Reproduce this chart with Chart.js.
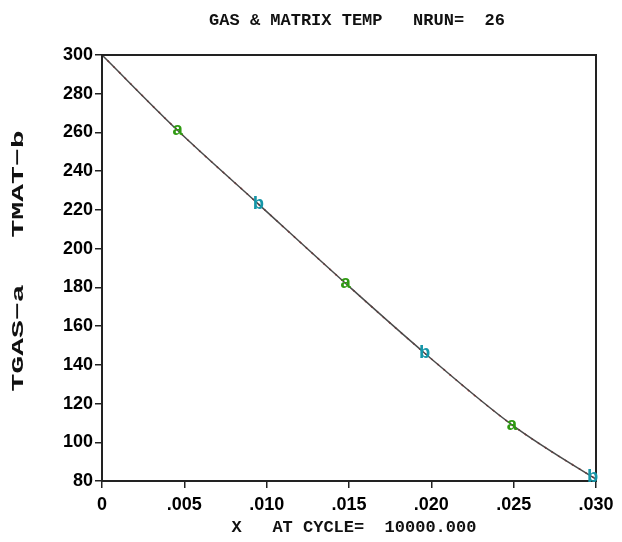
<!DOCTYPE html>
<html>
<head>
<meta charset="utf-8">
<script src="https://cdn.jsdelivr.net/npm/chart.js@4.4.1/dist/chart.umd.min.js"></script>
<style>
  html, body { margin: 0; padding: 0; background: #fff; }
  #wrap { width: 622px; height: 542px; }
</style>
</head>
<body>
<div id="wrap"><canvas id="tempChart" width="622" height="542"></canvas></div>
<script>
// x positions (metres) of the sampled curve
const curveX = [0, 0.0046, 0.0095, 0.0148, 0.0196, 0.0249, 0.0298, 0.0300];
const gasCurve = [300, 261, 223, 182, 146, 109, 82, 81];
const matCurve = [300, 261, 223, 182, 146, 109, 82, 81];

// symbol positions for each curve
const gasMarkX = [0.0046, 0.0148, 0.0249];
const gasMarkY = [261, 182, 109];
const matMarkX = [0.0095, 0.0196, 0.0298];
const matMarkY = [223, 146, 82];

const xTickLabels = ['0', '.005', '.010', '.015', '.020', '.025', '.030'];

const chartTitle = 'GAS & MATRIX TEMP   NRUN=  26';
const xTitle = 'X   AT CYCLE=  10000.000';
const yLabelMat = 'TMAT\u2212b';
const yLabelGas = 'TGAS\u2212a';

function toPoints(xs, ys) {
  return xs.map((x, i) => ({ x: x, y: ys[i] }));
}

const monoFont = 'bold 17px "Liberation Mono", "DejaVu Sans Mono", monospace';

// frame, letter markers and free text
const plotDecor = {
  id: 'plotDecor',
  afterDatasetsDraw(chart) {
    const ctx = chart.ctx;
    const area = chart.chartArea;

    ctx.save();
    ctx.strokeStyle = '#222';
    ctx.lineWidth = 2;
    ctx.strokeRect(area.left, area.top, area.right - area.left, area.bottom - area.top);
    ctx.restore();

    chart.data.datasets.forEach((ds, i) => {
      if (!ds.letter) return;
      const meta = chart.getDatasetMeta(i);
      ctx.save();
      ctx.font = 'bold 19px "Liberation Mono", "DejaVu Sans Mono", monospace';
      ctx.fillStyle = ds.letterColor;
      ctx.textAlign = 'center';
      ctx.textBaseline = 'middle';
      meta.data.forEach(pt => {
        ctx.fillText(ds.letter, pt.x, pt.y);
      });
      ctx.restore();
    });
  },
  afterDraw(chart) {
    const ctx = chart.ctx;
    ctx.save();
    ctx.fillStyle = '#111';
    ctx.font = monoFont;
    ctx.textAlign = 'center';
    ctx.textBaseline = 'middle';
    ctx.fillText(chartTitle, 357, 21);
    ctx.fillText(xTitle, 354, 528);

    [[yLabelMat, 184], [yLabelGas, 338]].forEach(([txt, cy]) => {
      ctx.save();
      ctx.translate(19, cy);
      ctx.rotate(-Math.PI / 2);
      ctx.scale(1.75, 1);
      ctx.fillText(txt, 0, 0);
      ctx.restore();
    });
    ctx.restore();
  }
};

const tickFont = { family: '"Liberation Sans", Arial, sans-serif', size: 18, weight: 'bold' };

const ctx = document.getElementById('tempChart').getContext('2d');
const tempChart = new Chart(ctx, {
  type: 'scatter',
  data: {
    datasets: [
      {
        label: 'TMAT',
        data: toPoints(curveX, matCurve),
        showLine: true,
        borderColor: '#4a4a4a',
        borderWidth: 1.5,
        pointRadius: 0,
        cubicInterpolationMode: 'monotone'
      },
      {
        label: 'TGAS',
        data: toPoints(curveX, gasCurve),
        showLine: true,
        borderColor: '#d01010',
        borderWidth: 1.5,
        borderDash: [2, 6],
        pointRadius: 0,
        cubicInterpolationMode: 'monotone'
      },
      {
        label: 'TGAS marks',
        data: toPoints(gasMarkX, gasMarkY),
        showLine: false,
        pointRadius: 0,
        letter: 'a',
        letterColor: '#2f9a12'
      },
      {
        label: 'TMAT marks',
        data: toPoints(matMarkX, matMarkY),
        showLine: false,
        pointRadius: 0,
        letter: 'b',
        letterColor: '#1596a8'
      }
    ]
  },
  options: {
    responsive: false,
    animation: false,
    layout: { padding: { top: 55, right: 26, bottom: 0, left: 0 } },
    plugins: {
      legend: { display: false },
      tooltip: { enabled: false }
    },
    scales: {
      x: {
        type: 'linear',
        min: 0,
        max: 0.03,
        afterFit(scale) { scale.height = 61; },
        afterBuildTicks(scale) {
          scale.ticks = xTickLabels.map((t, i) => ({ value: i * 0.005 }));
        },
        ticks: {
          color: '#000',
          font: tickFont,
          padding: 6,
          maxRotation: 0,
          autoSkip: false,
          callback: (v, i) => xTickLabels[i]
        },
        grid: { drawOnChartArea: false, drawTicks: true, tickLength: 7, color: '#222', lineWidth: 1.5 },
        border: { display: true, color: '#222', width: 2 }
      },
      y: {
        type: 'linear',
        min: 80,
        max: 300,
        afterFit(scale) { scale.width = 102; },
        ticks: {
          stepSize: 20,
          color: '#000',
          font: tickFont,
          padding: 2
        },
        grid: { drawOnChartArea: false, drawTicks: true, tickLength: 7, color: '#222', lineWidth: 1.5 },
        border: { display: true, color: '#222', width: 2 }
      }
    }
  },
  plugins: [plotDecor]
});
</script>
</body>
</html>
